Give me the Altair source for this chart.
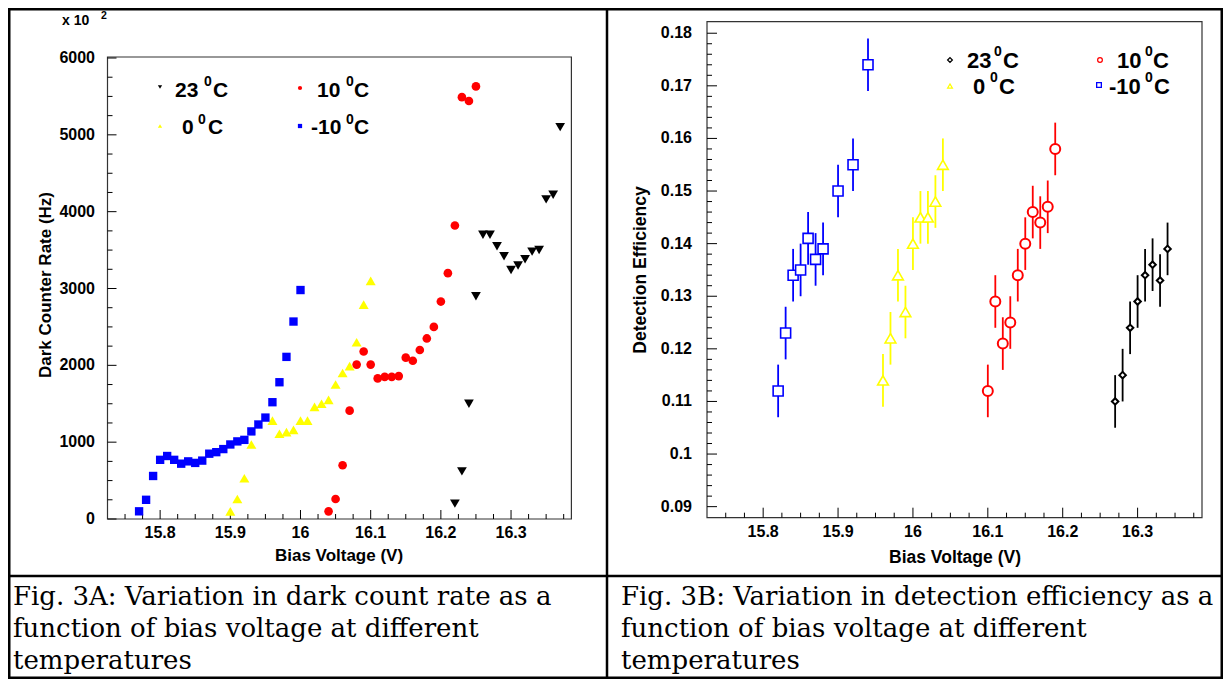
import altair as alt
import pandas as pd

# ---------------- Fig. 3A : dark count rate (Hz) vs bias voltage (V) ----------------
A_23_V = [16.22, 16.23, 16.24, 16.25, 16.26, 16.27, 16.28, 16.29, 16.30, 16.31, 16.32, 16.33, 16.34, 16.35, 16.36, 16.37]
A_23_R = [200, 620, 1500, 2900, 3700, 3700, 3550, 3420, 3240, 3300, 3380, 3480, 3500, 4160, 4220, 5100]
A_10_V = [16.04, 16.05, 16.06, 16.07, 16.08, 16.09, 16.10, 16.11, 16.12, 16.13, 16.14,
          16.15, 16.16, 16.17, 16.18, 16.19, 16.20, 16.21, 16.22, 16.23, 16.24, 16.25]
A_10_R = [100, 260, 700, 1410, 2010, 2180, 2010, 1830, 1850, 1850, 1860,
          2100, 2060, 2200, 2350, 2500, 2830, 3200, 3820, 5490, 5440, 5630]
A_0_V = [15.90, 15.91, 15.92, 15.93, 15.96, 15.97, 15.98, 15.99, 16.00, 16.01,
         16.02, 16.03, 16.04, 16.05, 16.06, 16.07, 16.08, 16.09, 16.10]
A_0_R = [100, 260, 530, 970, 1280, 1110, 1130, 1160, 1280, 1280,
         1460, 1500, 1550, 1750, 1900, 1990, 2300, 2790, 3100]
A_M10_V = [15.77, 15.78, 15.79, 15.80, 15.81, 15.82, 15.83, 15.84, 15.85, 15.86, 15.87, 15.88,
           15.89, 15.90, 15.91, 15.92, 15.93, 15.94, 15.95, 15.96, 15.97, 15.98, 15.99, 16.00]
A_M10_R = [100, 250, 560, 770, 820, 770, 720, 750, 730, 760, 850, 870,
           910, 970, 1010, 1030, 1140, 1230, 1320, 1520, 1780, 2110, 2570, 2980]

# ---------------- Fig. 3B : detection efficiency vs bias voltage (V) ----------------
B_M10_V = [15.82, 15.83, 15.84, 15.85, 15.86, 15.87, 15.88, 15.90, 15.92, 15.94]
B_M10_E = [0.112, 0.123, 0.134, 0.135, 0.141, 0.137, 0.139, 0.150, 0.155, 0.174]
B_M10_ERR = [0.005, 0.005, 0.005, 0.005, 0.005, 0.005, 0.005, 0.005, 0.005, 0.005]
B_0_V = [15.96, 15.97, 15.98, 15.99, 16.00, 16.01, 16.02, 16.03, 16.04]
B_0_E = [0.114, 0.122, 0.134, 0.127, 0.140, 0.145, 0.145, 0.148, 0.155]
B_0_ERR = [0.005, 0.005, 0.005, 0.005, 0.005, 0.005, 0.005, 0.005, 0.005]
B_10_V = [16.10, 16.11, 16.12, 16.13, 16.14, 16.15, 16.16, 16.17, 16.18, 16.19]
B_10_E = [0.112, 0.129, 0.121, 0.125, 0.134, 0.140, 0.146, 0.144, 0.147, 0.158]
B_10_ERR = [0.005, 0.005, 0.005, 0.005, 0.005, 0.005, 0.005, 0.005, 0.005, 0.005]
B_23_V = [16.27, 16.28, 16.29, 16.30, 16.31, 16.32, 16.33, 16.34]
B_23_E = [0.110, 0.115, 0.124, 0.129, 0.134, 0.136, 0.133, 0.139]
B_23_ERR = [0.005, 0.005, 0.005, 0.005, 0.005, 0.005, 0.005, 0.005]

# series labels (temperatures, deg C) and tick labels
SERIES = ["23", "10", "0", "-10"]
X_TICKS = [15.8, 15.9, 16.0, 16.1, 16.2, 16.3]
X_LABELS = ["15.8", "15.9", "16", "16.1", "16.2", "16.3"]
YA_TICKS = [0, 1000, 2000, 3000, 4000, 5000, 6000]
YA_LABELS = ["0", "1000", "2000", "3000", "4000", "5000", "6000"]
YB_TICKS = [0.09, 0.10, 0.11, 0.12, 0.13, 0.14, 0.15, 0.16, 0.17, 0.18]
YB_LABELS = ["0.09", "0.1", "0.11", "0.12", "0.13", "0.14", "0.15", "0.16", "0.17", "0.18"]
X_MINOR = [round(15.75 + 0.025 * i, 3) for i in range(26) if (i + 2) % 4 != 0]
YA_MINOR = [250 * i for i in range(1, 24) if i % 4 != 0]
YB_MINOR = [round(0.09 + 0.002 * i, 3) for i in range(1, 45) if i % 5 != 0]

CAPTION_A = ["Fig. 3A:  Variation in dark count rate as a",
             "function of bias voltage at different",
             "temperatures"]
CAPTION_B = ["Fig. 3B:  Variation in detection efficiency as a",
             "function of bias voltage at different",
             "temperatures"]

# ---------------- layout ----------------
W, H = 1215, 671
P = 8
FONT = "Liberation Sans"
SERIF = "DejaVu Serif"


def g(v):
    return v - P


COLORS = {"23": "#000000", "10": "#ff0000", "0": "#ffff00", "-10": "#0000ff"}
SHAPE_A = {"23": "triangle-down", "10": "circle", "0": "triangle-up", "-10": "square"}
SIZE_A = {"23": 95, "10": 75, "0": 100, "-10": 70}
SHAPE_B = {"23": "diamond", "10": "circle", "0": "triangle-up", "-10": "square"}
SIZE_B = {"23": 42, "10": 100, "0": 115, "-10": 100}

one = pd.DataFrame({"k": [0]})

XA_RNG = [g(107.5), g(571.4)]
YA_RNG = [g(519), g(58)]
XB_RNG = [g(707), g(1202)]
YB_RNG = [g(517.7), g(22.7)]

xsA = alt.Scale(domain=[15.725, 16.386], range=XA_RNG, zero=False, nice=False)
ysA = alt.Scale(domain=[0, 6000], range=YA_RNG, zero=False, nice=False)
xsB = alt.Scale(domain=[15.725, 16.386], range=XB_RNG, zero=False, nice=False)
ysB = alt.Scale(domain=[0.0879, 0.1820], range=YB_RNG, zero=False, nice=False)


def txt(text, x, y, size, font=FONT, weight="bold", align="left", baseline="alphabetic", angle=0):
    return alt.Chart(one).mark_text(text=text, font=font, fontSize=size, fontWeight=weight, color="black",
                                    align=align, baseline=baseline, angle=angle).encode(
        x=alt.value(g(x)), y=alt.value(g(y)))


def frame(xr, yr):
    return alt.Chart(one).mark_rect(fill="transparent", stroke="#333333", strokeWidth=1.2).encode(
        x=alt.value(xr[0]), x2=alt.value(xr[1]), y=alt.value(yr[1] - 1), y2=alt.value(yr[0]))


def ticks_x(xs, vals, y_pix, ln):
    df = pd.DataFrame({"v": vals})
    return alt.Chart(df).mark_rule(color="black", strokeWidth=1).encode(
        x=alt.X("v:Q", scale=xs, axis=None), y=alt.value(y_pix), y2=alt.value(y_pix - ln))


def ticks_y(ys, vals, x_pix, ln):
    df = pd.DataFrame({"v": vals})
    return alt.Chart(df).mark_rule(color="black", strokeWidth=1).encode(
        y=alt.Y("v:Q", scale=ys, axis=None), x=alt.value(x_pix), x2=alt.value(x_pix + ln))


def labels_x(xs, vals, labs, y_page, size):
    df = pd.DataFrame({"v": vals, "lab": labs})
    return alt.Chart(df).mark_text(font=FONT, fontWeight="bold", fontSize=size, color="black",
                                   align="center", baseline="middle").encode(
        x=alt.X("v:Q", scale=xs, axis=None), y=alt.value(g(y_page)), text="lab:N")


def labels_y(ys, vals, labs, x_page, size):
    df = pd.DataFrame({"v": vals, "lab": labs})
    return alt.Chart(df).mark_text(font=FONT, fontWeight="bold", fontSize=size, color="black",
                                   align="right", baseline="middle").encode(
        y=alt.Y("v:Q", scale=ys, axis=None), x=alt.value(g(x_page)), text="lab:N")


# ---------------- panel A ----------------
A_DATA = {"23": (A_23_V, A_23_R), "10": (A_10_V, A_10_R), "0": (A_0_V, A_0_R), "-10": (A_M10_V, A_M10_R)}
layersA = [frame(XA_RNG, YA_RNG),
           ticks_x(xsA, X_MINOR, YA_RNG[0], 5), ticks_x(xsA, X_TICKS, YA_RNG[0], 9),
           ticks_y(ysA, YA_MINOR, XA_RNG[0], 5), ticks_y(ysA, YA_TICKS, XA_RNG[0], 9),
           labels_x(xsA, X_TICKS, X_LABELS, 532.5, 16), labels_y(ysA, YA_TICKS, YA_LABELS, 95, 16)]
for s in ["0", "10", "23", "-10"]:
    v, r = A_DATA[s]
    df = pd.DataFrame({"v": v, "r": r})
    layersA.append(
        alt.Chart(df).mark_point(filled=True, shape=SHAPE_A[s], color=COLORS[s], size=SIZE_A[s], opacity=1)
        .encode(x=alt.X("v:Q", scale=xsA, axis=None), y=alt.Y("r:Q", scale=ysA, axis=None)))
panelA = alt.layer(*layersA)

# ---------------- panel B ----------------
B_DATA = {"23": (B_23_V, B_23_E, B_23_ERR), "10": (B_10_V, B_10_E, B_10_ERR),
          "0": (B_0_V, B_0_E, B_0_ERR), "-10": (B_M10_V, B_M10_E, B_M10_ERR)}
layersB = [frame(XB_RNG, YB_RNG),
           ticks_x(xsB, X_MINOR, YB_RNG[0], 5), ticks_x(xsB, X_TICKS, YB_RNG[0], 10),
           ticks_y(ysB, YB_MINOR, XB_RNG[0], 5), ticks_y(ysB, YB_TICKS, XB_RNG[0], 10),
           labels_x(xsB, X_TICKS, X_LABELS, 532, 16), labels_y(ysB, YB_TICKS, YB_LABELS, 692, 16)]
for s in ["-10", "0", "10", "23"]:
    v, e, err = B_DATA[s]
    df = pd.DataFrame({"v": v, "e": e, "lo": [a - b for a, b in zip(e, err)], "hi": [a + b for a, b in zip(e, err)]})
    layersB.append(
        alt.Chart(df).mark_rule(color=COLORS[s], strokeWidth=1.8)
        .encode(x=alt.X("v:Q", scale=xsB, axis=None), y=alt.Y("lo:Q", scale=ysB, axis=None), y2="hi:Q"))
    layersB.append(
        alt.Chart(df).mark_point(shape=SHAPE_B[s], fill="white", filled=False, stroke=COLORS[s],
                                 strokeWidth=2 if s in ("10", "23") else 1.6, size=SIZE_B[s], opacity=1)
        .encode(x=alt.X("v:Q", scale=xsB, axis=None), y=alt.Y("e:Q", scale=ysB, axis=None)))
panelB = alt.layer(*layersB)

# ---------------- axis titles, legends, captions, table lines ----------------
deco = [txt("Bias Voltage (V)", 339, 556, 17, align="center", baseline="middle"),
        txt("Dark Counter Rate (Hz)", 46, 285, 17, align="center", baseline="middle", angle=270),
        txt("Bias Voltage (V)", 955, 557.5, 17.5, align="center", baseline="middle"),
        txt("Detection Efficiency", 641, 270, 17.5, align="center", baseline="middle", angle=270)]

# legend of panel A: marker pos, number pos/baseline, superscript pos/baseline, "C" pos
LEG_A = [(160, 87, 175, 97, 204, 86, 213), (300, 88, 317, 97, 346, 86, 354),
         (160, 126, 182, 134, 198, 124, 208), (300, 126, 311, 134, 346, 124, 354)]
for s, (mx, my, tx, tb, sx, sb, cx) in zip(SERIES, LEG_A):
    deco.append(alt.Chart(one).mark_point(filled=True, shape=SHAPE_A[s], color=COLORS[s], size=18, opacity=1)
                .encode(x=alt.value(g(mx)), y=alt.value(g(my))))
    deco += [txt(s, tx, tb, 21), txt("0", sx, sb, 14), txt("C", cx, tb, 21)]

LEG_B = [(950, 60, 967, 68, 994, 56, 1003), (1100, 60, 1117, 68, 1145, 56, 1153),
         (950, 86, 973, 94, 990, 82, 999), (1099, 85, 1109, 94, 1145, 82, 1154)]
for s, (mx, my, tx, tb, sx, sb, cx) in zip(SERIES, LEG_B):
    deco.append(alt.Chart(one).mark_point(shape=SHAPE_B[s], fill="white", filled=False, stroke=COLORS[s],
                                          strokeWidth=1.3, size=22, opacity=1)
                .encode(x=alt.value(g(mx)), y=alt.value(g(my))))
    deco += [txt(s, tx, tb, 22), txt("0", sx, sb, 14), txt("C", cx, tb, 22)]

# "x 10^2" multiplier of the left y axis
deco += [txt("x 10", 62, 25, 14), txt("2", 101, 19, 10.5)]

# captions
for i, line in enumerate(CAPTION_A):
    deco.append(txt(line, 13, 605 + 32 * i, 26, font=SERIF, weight="normal"))
for i, line in enumerate(CAPTION_B):
    deco.append(txt(line, 621, 605 + 32 * i, 26, font=SERIF, weight="normal"))

# table lines
deco.append(alt.Chart(one).mark_rect(fill="transparent", stroke="black", strokeWidth=2.5)
            .encode(x=alt.value(1.25), x2=alt.value(W - 1.25), y=alt.value(1.25), y2=alt.value(H - 1.25)))
deco.append(alt.Chart(one).mark_rule(color="black", strokeWidth=2.5)
            .encode(x=alt.value(g(607)), y=alt.value(0), y2=alt.value(H)))
deco.append(alt.Chart(one).mark_rule(color="black", strokeWidth=2.5)
            .encode(x=alt.value(0), x2=alt.value(W), y=alt.value(g(576))))

chart = (
    alt.layer(panelA, panelB, *deco)
    .resolve_scale(x="independent", y="independent")
    .properties(width=W, height=H, padding=0, autosize=alt.AutoSizeParams(type="none"))
    .configure_view(strokeWidth=0)
    .configure(background="white")
)

chart.save("out.html", embed_options={"renderer": "svg", "actions": False})
